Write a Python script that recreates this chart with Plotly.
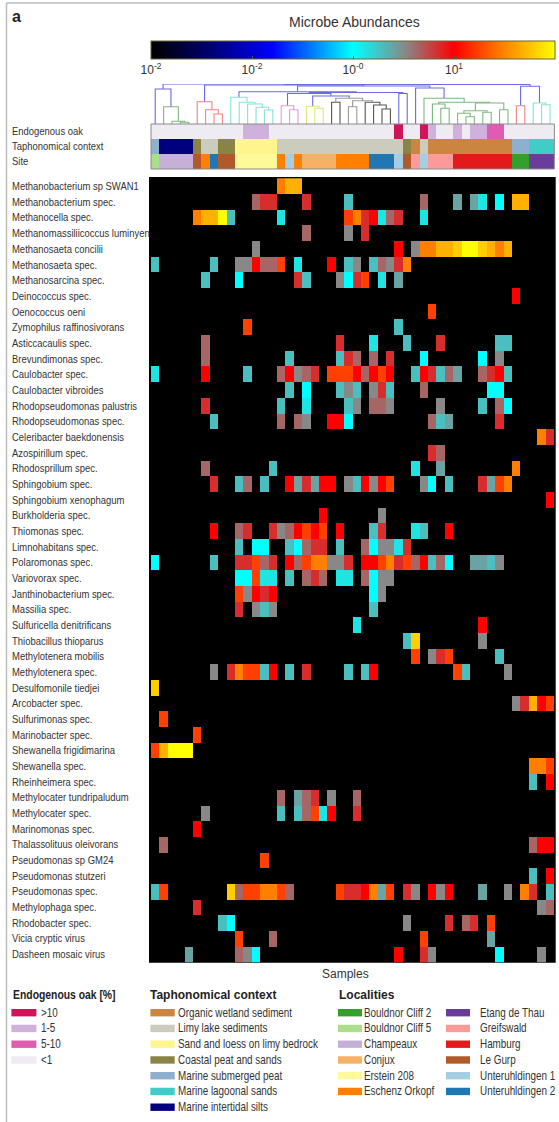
import plotly.graph_objects as go

W, H = 559, 1122

# ---- readings on the colour bar (0 = absent, 1 = highest) ----
CY, CT, TL, TG, GR, RO, DR, RD, OR, OG, AM, GD, YL = (
    .50, .53, .57, .60, .63, .66, .71, .75, .81, .87, .92, .95, 1.0)

taxa = ["Methanobacterium sp SWAN1", "Methanobacterium spec.", "Methanocella spec.",
        "Methanomassiliicoccus luminyen", "Methanosaeta concilii", "Methanosaeta spec.",
        "Methanosarcina spec.", "Deinococcus spec.", "Oenococcus oeni",
        "Zymophilus raffinosivorans", "Asticcacaulis spec.", "Brevundimonas spec.",
        "Caulobacter spec.", "Caulobacter vibroides", "Rhodopseudomonas palustris",
        "Rhodopseudomonas spec.", "Celeribacter baekdonensis", "Azospirillum spec.",
        "Rhodosprillum spec.", "Sphingobium spec.", "Sphingobium xenophagum",
        "Burkholderia spec.", "Thiomonas spec.", "Limnohabitans spec.", "Polaromonas spec.",
        "Variovorax spec.", "Janthinobacterium spec.", "Massilia spec.",
        "Sulfuricella denitrificans", "Thiobacillus thioparus", "Methylotenera mobilis",
        "Methylotenera spec.", "Desulfomonile tiedjei", "Arcobacter spec.",
        "Sulfurimonas spec.", "Marinobacter spec.", "Shewanella frigidimarina",
        "Shewanella spec.", "Rheinheimera spec.", "Methylocater tundripaludum",
        "Methylocater spec.", "Marinomonas spec.", "Thalassolituus oleivorans",
        "Pseudomonas sp GM24", "Pseudomonas stutzeri", "Pseudomonas spec.",
        "Methylophaga spec.", "Rhodobacter spec.", "Vicia cryptic virus",
        "Dasheen mosaic virus"]

samples = list(range(48))

# one {sample: reading} per taxon, same order as taxa
abundance = [
    {15: OG, 16: AM, 17: AM},
    {12: RO, 13: DR, 14: DR, 18: DR, 23: TL, 32: RO, 36: TG, 38: TG, 39: CT, 41: CY, 43: AM, 44: AM},
    {5: OG, 6: AM, 7: AM, 8: YL, 9: TL, 15: CT, 23: OR, 24: OG, 25: DR, 26: RD, 27: CT, 28: RO, 29: DR, 32: CT},
    {18: RO, 23: GR, 25: DR},
    {12: GR, 29: RD, 31: GR, 32: OG, 33: OG, 34: AM, 35: AM, 36: GD, 37: YL, 38: YL, 39: GD, 40: AM, 41: OG, 42: AM},
    {0: TL, 7: TL, 10: GR, 11: GR, 12: RD, 13: RO, 14: RO, 15: OR, 17: CT, 21: RD, 23: TL, 24: GR, 26: TL, 27: RO, 28: GR, 29: DR, 30: OG},
    {6: TL, 10: CY, 17: DR, 18: TL, 22: GR, 23: CY, 24: DR, 25: OR, 27: CT, 29: TG},
    {43: RD},
    {33: OR},
    {11: OR, 29: TL},
    {6: RO, 22: DR, 26: CT, 30: TL, 34: DR, 41: TL, 42: TL},
    {6: RO, 16: TL, 22: TL, 23: DR, 24: RO, 26: RO, 28: DR, 32: CY, 39: CY, 41: GR},
    {0: CT, 6: RD, 11: TL, 15: RO, 16: RD, 17: GR, 18: RO, 19: DR, 21: OR, 22: OR, 23: OR, 24: RD, 25: RO, 26: RD, 27: OR, 28: RD, 31: TL, 32: RD, 33: DR, 34: TL, 35: RO, 36: TG, 39: RO, 40: DR, 41: RD, 42: TL},
    {16: TL, 18: CY, 22: TL, 23: GR, 24: TL, 26: GR, 27: DR, 28: TL, 32: RO, 40: CY, 41: CY},
    {6: DR, 15: TL, 18: CT, 23: TL, 24: GR, 26: RO, 27: RO, 28: GR, 34: GR, 39: TL, 41: RO, 42: CY},
    {7: TL, 15: RO, 17: RO, 18: GR, 21: RD, 22: RD, 23: CY, 33: RO, 34: TL, 35: TG, 41: DR},
    {46: OG, 47: DR},
    {33: DR, 34: RO},
    {6: RO, 14: TL, 31: CT, 34: TG, 43: OG},
    {7: DR, 10: TL, 11: RO, 13: TL, 16: RD, 17: TG, 18: DR, 19: TG, 20: RD, 21: RD, 23: GR, 24: TL, 25: RD, 26: GR, 27: RD, 28: OR, 32: GR, 33: CY, 35: TL, 39: DR, 40: TG, 41: OR, 42: OG},
    {47: RD},
    {20: RD, 27: GR},
    {7: RD, 10: RO, 11: DR, 14: DR, 15: GR, 16: RO, 17: RD, 18: OR, 19: RD, 20: OR, 22: RD, 26: TL, 27: DR, 31: CT, 32: TL, 35: RD},
    {10: TL, 12: CY, 13: CY, 16: TL, 17: CY, 18: RO, 19: DR, 20: DR, 22: TL, 25: RO, 26: CY, 27: GR, 28: GR, 29: CT, 30: DR},
    {0: CY, 7: TL, 10: DR, 11: DR, 12: OR, 13: RO, 14: DR, 16: RD, 17: RO, 18: OR, 19: OG, 20: OG, 21: GR, 22: GR, 23: DR, 25: RD, 26: RD, 27: OR, 28: OG, 29: DR, 30: OR, 31: RO, 32: RD, 33: TL, 34: RO, 35: CY, 38: TG, 39: TG, 40: TL, 41: GR},
    {10: CY, 11: CY, 12: OR, 13: CT, 14: CT, 16: TL, 18: RO, 19: DR, 20: RO, 22: CT, 23: CT, 25: RO, 26: CY, 27: GR, 28: GR},
    {10: OR, 11: GR, 12: RD, 13: DR, 14: RD, 26: CY, 27: GR},
    {10: DR, 12: GR, 13: TL, 14: GR, 26: TL},
    {24: CT, 39: RD},
    {30: TL, 31: GD, 39: GR},
    {31: OR, 33: GR, 34: DR, 35: OR, 41: TL},
    {7: GR, 9: DR, 10: OG, 11: OR, 12: OR, 13: TL, 14: RD, 16: TL, 18: DR, 23: TL, 25: TL, 26: RD, 36: OR, 37: TL, 42: GR},
    {0: GD},
    {43: GR, 44: DR, 45: AM, 46: RD, 47: OR},
    {1: OR},
    {5: OR},
    {0: OR, 1: AM, 2: YL, 3: YL, 4: YL},
    {45: OG, 46: OG, 47: OR},
    {45: TL, 47: RD},
    {15: RO, 17: TG, 18: RO, 19: DR, 21: GR, 24: RO},
    {6: GR, 15: TL, 17: TL, 18: RO, 19: OR, 20: CT, 21: RD, 24: DR},
    {5: RD},
    {1: RO, 45: RO, 46: RD, 47: RD},
    {13: OR},
    {45: TL, 47: RD},
    {0: TL, 1: OR, 9: GD, 10: RO, 11: OR, 12: OR, 13: OG, 14: OG, 15: OR, 16: RO, 22: OR, 23: DR, 24: DR, 25: RD, 26: OG, 27: TG, 28: OR, 30: DR, 31: GR, 33: RD, 34: GR, 35: RD, 39: TG, 42: GR, 44: OG, 45: DR, 47: TL},
    {5: DR, 46: GR, 47: RO},
    {8: TL, 9: CY, 30: GR, 35: DR, 37: RO, 38: DR, 40: OR},
    {10: OR, 14: RO, 32: OR, 40: TG},
    {4: TG, 10: RO, 11: GR, 12: CY, 29: RD, 32: DR, 33: GR, 41: CY, 46: GR},
]

colorbar_tickvals = [0, .25, .5, .75]
colorbar_ticktext = ["10<sup>-2</sup>", "10<sup>-2</sup>", "10<sup>-0</sup>", "10<sup>1</sup>"]

# ---- annotation strips: runs of (category, number of samples) ----
oak_names = [">10", "1-5", "5-10", "<1"]
oak_colors = ["#D0145C", "#CFB1DB", "#DF5CB0", "#EEEBF3"]
oak_runs = [("<1", 11), ("1-5", 3), ("<1", 15), (">10", 1), ("<1", 2), (">10", 1), ("1-5", 1),
            ("<1", 2), ("1-5", 1), ("<1", 1), ("1-5", 2), ("5-10", 2), ("<1", 6)]

context_names = ["Organic wetland sediment", "Limy lake sediments", "Sand and loess on limy bedrock",
                 "Coastal peat and sands", "Marine submerged peat", "Marine lagoonal sands",
                 "Marine intertidal silts"]
context_colors = ["#CC8540", "#CBCBBE", "#FFF58F", "#8A8444", "#8CB0CE", "#40CCC8", "#00007F"]
context_runs = [("Marine submerged peat", 1), ("Marine intertidal silts", 4), ("Coastal peat and sands", 1),
                ("Limy lake sediments", 2), ("Coastal peat and sands", 2),
                ("Sand and loess on limy bedrock", 5), ("Limy lake sediments", 15),
                ("Coastal peat and sands", 1), ("Organic wetland sediment", 1), ("Limy lake sediments", 1),
                ("Organic wetland sediment", 10), ("Marine submerged peat", 2), ("Marine lagoonal sands", 3)]

site_names = ["Bouldnor Cliff 2", "Bouldnor Cliff 5", "Champeaux", "Conjux", "Erstein 208", "Eschenz Orkopf",
              "Etang de Thau", "Greifswald", "Hamburg", "Le Gurp", "Unteruhldingen 1", "Unteruhldingen 2"]
site_colors = ["#33A02C", "#ACDD8A", "#C6B0D8", "#F6B264", "#FFFA99", "#FF7F00",
               "#6A3D9A", "#FB9A99", "#E31A1C", "#B15928", "#A6CEE3", "#1F78B4"]
site_runs = [("Bouldnor Cliff 5", 1), ("Champeaux", 4), ("Le Gurp", 1), ("Eschenz Orkopf", 1),
             ("Unteruhldingen 2", 1), ("Le Gurp", 2), ("Erstein 208", 5), ("Eschenz Orkopf", 1),
             ("Unteruhldingen 1", 1), ("Eschenz Orkopf", 1), ("Conjux", 4), ("Eschenz Orkopf", 4),
             ("Unteruhldingen 2", 3), ("Unteruhldingen 1", 1), ("Le Gurp", 1), ("Greifswald", 1),
             ("Unteruhldingen 1", 1), ("Greifswald", 3), ("Hamburg", 7), ("Bouldnor Cliff 2", 2),
             ("Etang de Thau", 3)]

strip_labels = ["Endogenous oak", "Taphonomical context", "Site"]

# ---- sample dendrogram: (merge height, colour, left, right); a bare int is a sample ----
BLU, GRN, PNK, CYN, SAL, LIM, BLK, GRY = ("#6A6AE6", "#7DB97D", "#E39AE0", "#86E3D6",
                                          "#F08484", "#E4E480", "#555555", "#9A9A9A")
clade_a = (35, BLU, 0, (17.3, GRN, 1, (2.7, GRN, 2, (1.7, GRN, 3, 4))))
clade_b = (22.3, SAL, 5, (14.3, SAL, 6, (10, SAL, 7, 8)))
clade_c = (26.7, CYN, 9, (21.7, CYN, 10, (20, CYN, 11, (16.7, CYN, 12, (14, CYN, 13, 14)))))
clade_pink = (18.3, PNK, 15, (14.3, PNK, 16, 17))
clade_lime = (17.7, LIM, 18, (15.7, LIM, 19, 20))
clade_grey = (25.7, GRY, (21.7, BLK, 21, 22),
              (23.3, GRY, (17.3, GRY, 23, 24), (21.7, BLK, 25, (19, BLK, 26, (15, BLK, 27, 28)))))
clade_green = (25.7, GRN, 32, (21.7, GRN, (20, GRN, 33, (15.7, GRN, 34, 35)),
                               (21, GRN, (13.3, GRN, (10.7, GRN, 36, (7.3, GRN, 37, 38)), (11.7, GRN, 39, 40)),
                                (14.3, GRN, 41, 42))))
clade_right = (37.7, BLU, (18.3, SAL, 43, 44), (21, CYN, 45, (19.3, CYN, 46, 47)))
clade_mid = (32.3, BLU, clade_c,
             (31.5, BLU, (30.5, BLU, clade_pink, (28, BLU, clade_lime, clade_grey)), (30.5, BLU, 29, 30)))
tree = (40, BLU, clade_a,
        (39.5, BLU, (39, BLU, clade_b, (38, BLU, clade_mid, (36, BLU, 31, clade_green))), clade_right))
tree_max = 40


def px_x(p):
    return p / W


def px_y(p):
    return 1 - p / H


FONT = "Liberation Sans"
INK = "#333333"
SIZE_TAXON, SIZE_LEGEND, SIZE_OAK_HEAD = 11.4, 11.9, 12.5   # texts set narrow (see post_script)

colorscale = [[0, "#000000"], [.12, "#00005a"], [.30, "#0000ff"], [.50, "#00ffff"], [.63, "#888888"],
              [.75, "#ff0000"], [.87, "#ff8000"], [1, "#ffff00"]]

z = [[row.get(s) for s in samples] for row in abundance]

fig = go.Figure()

# strips: one heatmap coloured by index into the joined palette
palette = oak_colors + context_colors + site_colors
all_names = oak_names + context_names + site_names


def expand(runs):
    out = []
    for name, n in runs:
        out += [all_names.index(name)] * n
    return out


strip_z = [expand(oak_runs), expand(context_runs), expand(site_runs)]
n_pal = len(palette)
strip_scale = []
for i, c in enumerate(palette):
    strip_scale += [[i / n_pal, c], [(i + 1) / n_pal, c]]

fig.add_trace(go.Heatmap(z=strip_z, x=samples, y=strip_labels, xaxis="x", yaxis="y3", zmin=-.5, zmax=n_pal - .5,
                         colorscale=strip_scale, showscale=False, hoverinfo="skip"))

fig.add_trace(go.Heatmap(
    z=z, x=samples, y=taxa, xaxis="x", yaxis="y", zmin=0, zmax=1, colorscale=colorscale, hoverongaps=False,
    colorbar=dict(orientation="h", x=px_x(353), xanchor="center", xref="paper", y=px_y(41), yanchor="top",
                  yref="paper", len=404, lenmode="pixels", thickness=18, thicknessmode="pixels", xpad=0, ypad=0,
                  outlinecolor="#66663a", outlinewidth=1, tickvals=colorbar_tickvals, ticktext=colorbar_ticktext,
                  ticks="inside", ticklen=3, tickcolor="#555555",
                  tickfont=dict(family=FONT, size=12, color=INK))))

# dendrogram
segments = {}


def walk(node):
    if isinstance(node, int):
        return float(node), 0.0
    h, col, left, right = node
    xl, hl = walk(left)
    xr, hr = walk(right)
    xs, ys = segments.setdefault(col, ([], []))
    xs += [xl, xl, xr, xr, None]
    ys += [hl, h, h, hr, None]
    return (xl + xr) / 2, h


walk(tree)
for col, (xs, ys) in segments.items():
    fig.add_trace(go.Scatter(x=xs, y=ys, mode="lines", xaxis="x", yaxis="y2", showlegend=False,
                             line=dict(color=col, width=1.1), hoverinfo="skip", cliponaxis=False))

annotations = []


def label(x, y, text, size=SIZE_TAXON, bold=False, anchor="left", yref="paper", color=INK):
    annotations.append(dict(x=x, y=y, xref="paper", yref=yref, text=f"<b>{text}</b>" if bold else text,
                            showarrow=False, xanchor=anchor, yanchor="middle", borderpad=0, borderwidth=0,
                            font=dict(family=FONT, size=size, color=color)))


for t in taxa:
    label(px_x(12), t, t, yref="y")
for s in strip_labels:
    label(px_x(12), s, s, yref="y3")

label(px_x(354.5), px_y(22), "Microbe Abundances", size=14, anchor="center")
label(px_x(12), px_y(17), "a", size=16, bold=True, color="#222222")
label(px_x(345), px_y(974), "Samples", size=12, anchor="center")

shapes = [
    dict(type="rect", xref="paper", yref="paper", x0=px_x(149), x1=px_x(555.7), y0=px_y(962.7), y1=px_y(177),
         fillcolor="#000000", line_width=0, layer="below"),
    dict(type="rect", xref="paper", yref="paper", x0=px_x(151), x1=px_x(554.4), y0=px_y(169), y1=px_y(124),
         fillcolor="rgba(0,0,0,0)", line=dict(color="#8a8a8a", width=1)),
    dict(type="line", xref="paper", yref="paper", x0=px_x(6.5), x1=1, y0=px_y(3), y1=px_y(3),
         line=dict(color="#bdbdbd", width=1.5)),
    dict(type="line", xref="paper", yref="paper", x0=px_x(6.5), x1=px_x(6.5), y0=px_y(3), y1=0,
         line=dict(color="#bdbdbd", width=1.5)),
]


def legend_col(names, colors, sw_x0, sw_x1, text_x):
    for i, (n, c) in enumerate(zip(names, colors)):
        y = 1012.7 + 15.75 * i
        shapes.append(dict(type="rect", xref="paper", yref="paper", x0=px_x(sw_x0), x1=px_x(sw_x1),
                           y0=px_y(y + 3.7), y1=px_y(y - 3.7), fillcolor=c, line_width=0))
        label(px_x(text_x), px_y(y), n, size=SIZE_LEGEND)


label(px_x(12.5), px_y(995), "Endogenous oak [%]", size=SIZE_OAK_HEAD, bold=True, color="#222222")
label(px_x(150.4), px_y(995), "Taphonomical context", size=12, bold=True, color="#222222")
label(px_x(338.7), px_y(995), "Localities", size=12, bold=True, color="#222222")
legend_col(oak_names, oak_colors, 11.4, 36.4, 41)
legend_col(context_names, context_colors, 150.4, 174.7, 178)
legend_col(site_names[:6], site_colors[:6], 338, 362, 364.4)
legend_col(site_names[6:], site_colors[6:], 446, 470, 480)

fig.update_layout(
    width=W, height=H, margin=dict(l=0, r=0, t=0, b=0), paper_bgcolor="#ffffff", plot_bgcolor="rgba(0,0,0,0)",
    showlegend=False, shapes=shapes, annotations=annotations,
    xaxis=dict(domain=[px_x(149), px_x(555.7)], range=[-0.74, 47.68], visible=False),
    yaxis=dict(domain=[px_y(962.7), px_y(177)], range=[49.545, -0.583], type="category", categoryorder="array",
               categoryarray=taxa, visible=False),
    yaxis2=dict(domain=[px_y(124), px_y(124 - tree_max)], range=[0, tree_max], visible=False, anchor="x"),
    yaxis3=dict(domain=[px_y(169), px_y(124)], range=[2.5, -0.5], type="category", categoryorder="array",
                categoryarray=strip_labels, visible=False, anchor="x"),
)

# The reference labels are a condensed face that is not installed: squeeze those texts horizontally.
post = """
document.body.style.margin='0';document.documentElement.style.overflow='hidden';
function squeeze(){
  var sizes=[%s,%s,%s], s=0.83;
  document.querySelectorAll('text.annotation-text').forEach(function(t){
    if(sizes.indexOf(parseFloat(t.style.fontSize))<0) return;
    var b=t.getBBox();
    t.setAttribute('transform','translate('+(b.x*(1-s))+' 0) scale('+s+' 1)');
  });
}
squeeze(); setTimeout(squeeze,150);
""" % (SIZE_TAXON, SIZE_LEGEND, SIZE_OAK_HEAD)

fig.write_html("out.html", config={"displayModeBar": False}, post_script=post)
